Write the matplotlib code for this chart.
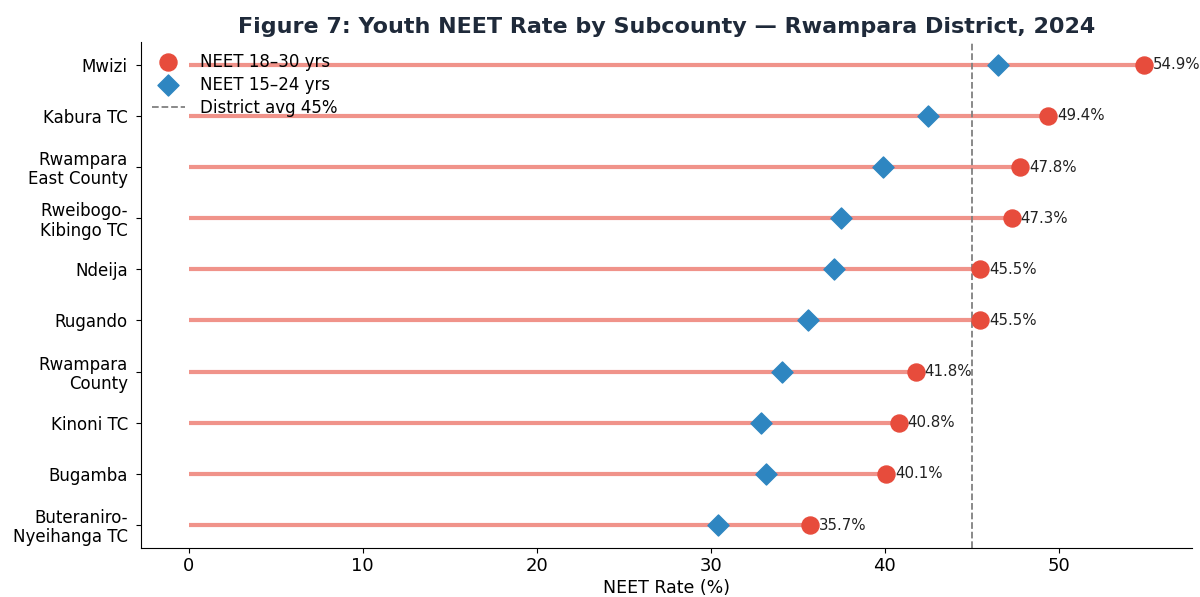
import matplotlib.pyplot as plt

plt.rcParams['font.family'] = ['DejaVu Sans']

# Subcounties listed top to bottom
subcounties = ['Mwizi', 'Kabura TC', 'Rwampara\nEast County', 'Rweibogo-\nKibingo TC',
               'Ndeija', 'Rugando', 'Rwampara\nCounty', 'Kinoni TC', 'Bugamba',
               'Buteraniro-\nNyeihanga TC']
neet_18_30 = [54.9, 49.4, 47.8, 47.3, 45.5, 45.5, 41.8, 40.8, 40.1, 35.7]
neet_15_24 = [46.5, 42.5, 39.9, 37.5, 37.1, 35.6, 34.1, 32.9, 33.2, 30.4]
district_avg = 45


def main():
    fig, ax = plt.subplots(figsize=(12, 5.97), dpi=100)
    fig.subplots_adjust(left=0.1175, right=0.993, top=0.93, bottom=0.082)

    y = list(range(len(subcounties)))[::-1]

    # Lollipop stems from zero to the 18-30 value
    ax.hlines(y, 0, neet_18_30, color='#e74c3c', alpha=0.6, linewidth=3, zorder=1)
    ax.scatter(neet_18_30, y, s=150, color='#e74c3c', marker='o', zorder=3,
               label='NEET 18–30 yrs')
    ax.scatter(neet_15_24, y, s=115, color='#2e86c1', marker='D', zorder=3,
               label='NEET 15–24 yrs')
    ax.axvline(district_avg, color='gray', linestyle='--', linewidth=1.3,
               label=f'District avg {district_avg}%', zorder=2)

    for xv, yv in zip(neet_18_30, y):
        ax.text(xv + 0.5, yv, f'{xv}%', va='center', ha='left', fontsize=10.8,
                color='#222222')

    ax.set_yticks(y)
    ax.set_yticklabels(subcounties, fontsize=12, linespacing=1.1)
    ax.tick_params(axis='y', pad=6)
    ax.tick_params(axis='x', labelsize=13, pad=3)
    ax.set_xlabel('NEET Rate (%)', fontsize=12.5, labelpad=3)
    ax.set_title('Figure 7: Youth NEET Rate by Subcounty — Rwampara District, 2024',
                 fontsize=16, fontweight='bold', color='#1f2a3a', pad=6)
    ax.spines['top'].set_visible(False)
    ax.spines['right'].set_visible(False)
    ax.legend(loc='upper left', frameon=False, fontsize=12,
              borderaxespad=0.25, handletextpad=0.9, labelspacing=0.3)

    fig.savefig('out.png', dpi=100)


if __name__ == "__main__":
    main()
